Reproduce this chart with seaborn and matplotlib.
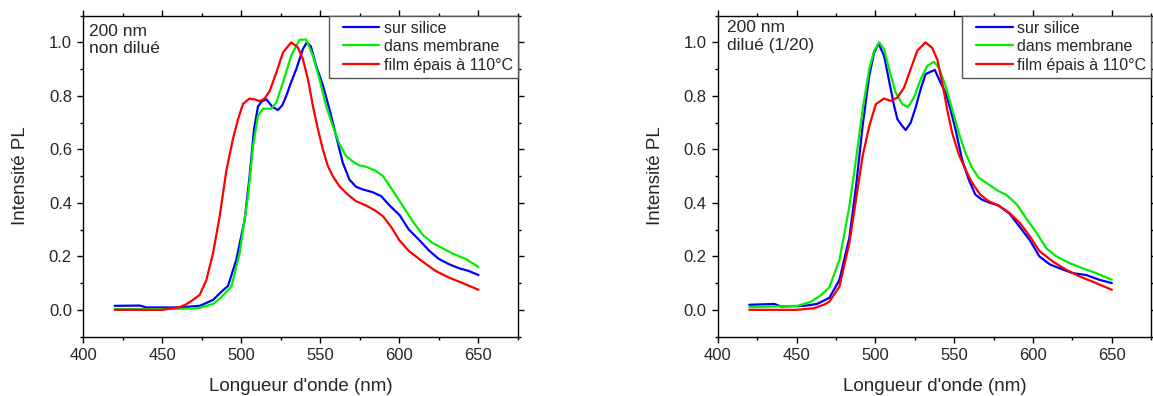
import numpy as np
import pandas as pd
import seaborn as sns
import matplotlib.pyplot as plt
from matplotlib.ticker import MultipleLocator
from matplotlib.lines import Line2D
from matplotlib.legend_handler import HandlerLine2D

# --- panneau gauche : 200 nm non dilué ---
wl_sil_a = [420, 436, 440, 460, 473.8, 482.2, 487, 491.7, 496.9, 502.2, 505.3, 508.1, 510.6, 513, 516, 519.5,
            523.2, 526, 528.5, 531.5, 534.8, 539, 541.5, 544, 547.4, 551.6, 555.8, 560, 564.2, 568.4, 572.6,
            577, 583, 588.5, 593.8, 600, 606, 612.7, 619, 625, 631.6, 638, 644, 650]
int_sil_a = [0.015, 0.016, 0.009, 0.009, 0.015, 0.037, 0.065, 0.09, 0.187, 0.337, 0.5, 0.675, 0.76, 0.78, 0.787,
             0.76, 0.747, 0.765, 0.8, 0.85, 0.9, 0.975, 1.0, 0.985, 0.912, 0.84, 0.75, 0.65, 0.55, 0.487, 0.46,
             0.45, 0.44, 0.425, 0.39, 0.355, 0.3, 0.26, 0.22, 0.19, 0.17, 0.155, 0.145, 0.13]

wl_mem_a = [420, 450, 470, 473.8, 482.2, 487, 493.8, 499, 504.3, 507.5, 510.6, 513.8, 519, 522.2, 526.4, 531.6,
            536.9, 541.1, 545.3, 549.5, 553.7, 557.9, 562.1, 566.3, 571.6, 574.7, 579, 585, 589.6, 595.9, 602,
            608.5, 614.8, 621, 627.4, 633.8, 642, 650]
int_mem_a = [0.003, 0.003, 0.005, 0.008, 0.022, 0.045, 0.087, 0.212, 0.425, 0.612, 0.725, 0.752, 0.752, 0.775,
             0.85, 0.95, 1.01, 1.01, 0.95, 0.862, 0.762, 0.687, 0.62, 0.575, 0.55, 0.54, 0.535, 0.52, 0.5, 0.445,
             0.39, 0.33, 0.28, 0.25, 0.23, 0.21, 0.19, 0.16]

wl_film_a = [420, 450, 461, 465, 469, 473.8, 478, 482.2, 486.4, 490.6, 494.8, 498, 501.1, 505.3, 508.5, 511.7,
             514.8, 518, 522.2, 526.4, 531.6, 535.8, 539, 542.2, 545.3, 548.5, 551.6, 554.8, 557.9, 562.1, 567.4,
             572.6, 579, 585, 589.6, 594.8, 600, 606, 614.8, 623, 631.6, 640, 650]
int_film_a = [0.0, 0.0, 0.01, 0.02, 0.035, 0.056, 0.112, 0.212, 0.35, 0.52, 0.64, 0.712, 0.77, 0.79, 0.787, 0.78,
              0.79, 0.818, 0.887, 0.962, 1.0, 0.981, 0.937, 0.862, 0.762, 0.675, 0.6, 0.537, 0.5, 0.462, 0.431,
              0.406, 0.39, 0.37, 0.35, 0.31, 0.26, 0.22, 0.18, 0.145, 0.12, 0.1, 0.075]

# --- panneau droit : 200 nm dilué (1/20) ---
wl_sil_b = [420, 436, 440, 455, 463, 470.85, 477.2, 483.5, 487.7, 491.9, 496.1, 499.2, 502, 505.5, 508.7, 511.9,
            514, 516.7, 519.2, 522.4, 525.5, 528.7, 531.8, 533.9, 537.7, 541.3, 544.5, 547.6, 550.8, 555, 559.2,
            563.4, 567.6, 571.8, 578.1, 585, 591.6, 598, 604, 610.6, 617, 625, 633.8, 642, 650]
int_sil_b = [0.019, 0.022, 0.0125, 0.015, 0.022, 0.045, 0.112, 0.27, 0.46, 0.687, 0.875, 0.962, 0.995, 0.95,
             0.856, 0.762, 0.712, 0.69, 0.672, 0.7, 0.756, 0.825, 0.881, 0.887, 0.897, 0.85, 0.812, 0.75, 0.675,
             0.562, 0.487, 0.431, 0.412, 0.402, 0.39, 0.36, 0.31, 0.26, 0.2, 0.17, 0.155, 0.1375, 0.13, 0.1125,
             0.1]

wl_mem_b = [420, 450.7, 459, 465.5, 470.85, 477.2, 483.5, 487.7, 491.9, 496.1, 499.2, 502.4, 505.5, 508.7, 512.9,
            517.1, 520.7, 524.5, 528.7, 532.9, 537.1, 540.2, 544.5, 548.7, 552.9, 557.1, 561.3, 565.5, 571.8,
            578.1, 583, 589.6, 595.9, 602, 608.5, 614.8, 623, 631.6, 640, 650]
int_mem_b = [0.01, 0.015, 0.03, 0.055, 0.085, 0.187, 0.387, 0.562, 0.75, 0.9, 0.969, 1.0, 0.975, 0.9, 0.812,
             0.769, 0.758, 0.794, 0.862, 0.912, 0.927, 0.906, 0.837, 0.75, 0.662, 0.587, 0.531, 0.494, 0.469,
             0.444, 0.43, 0.395, 0.34, 0.29, 0.23, 0.2, 0.175, 0.155, 0.1375, 0.1125]

wl_film_b = [420, 450, 461, 467.6, 470.85, 477.2, 483.5, 487.7, 491.9, 496.1, 500.3, 505.5, 509.8, 514, 518.2,
             522.4, 526.6, 531.8, 536, 539.2, 542.4, 545.5, 548.7, 552.9, 557.1, 561.3, 566.5, 571.8, 578.1, 585,
             591.6, 598, 604, 612.7, 621, 629.5, 640, 650]
int_film_b = [0.0, 0.0, 0.006, 0.02, 0.031, 0.087, 0.25, 0.412, 0.575, 0.687, 0.769, 0.79, 0.781, 0.794, 0.831,
              0.9, 0.969, 1.0, 0.979, 0.937, 0.85, 0.75, 0.662, 0.581, 0.525, 0.475, 0.431, 0.406, 0.39, 0.3625,
              0.325, 0.275, 0.22, 0.18, 0.15, 0.125, 0.1, 0.075]

labels = ['sur silice', 'dans membrane', 'film épais à 110°C']
colors = ['#0000FF', '#00EE00', '#FF0000']

sns.set_style("ticks")
plt.rcParams['font.family'] = ['Liberation Sans', 'DejaVu Sans']

fig = plt.figure(figsize=(11.53, 3.96), dpi=100)
ax1 = fig.add_axes([0.072, 0.150, 0.3773, 0.8106])
ax2 = fig.add_axes([0.6225, 0.150, 0.3760, 0.8106])

panels = [
    (ax1, [(wl_sil_a, int_sil_a), (wl_mem_a, int_mem_a), (wl_film_a, int_film_a)], "200 nm\nnon dilué", 0.014, 0.975),
    (ax2, [(wl_sil_b, int_sil_b), (wl_mem_b, int_mem_b), (wl_film_b, int_film_b)], "200 nm\ndilué (1/20)", 0.021, 0.985),
]

for ax, series, note, tx, ty in panels:
    for (wl, val), lab, col in zip(series, labels, colors):
        sns.lineplot(x=wl, y=val, ax=ax, color=col, label=lab, lw=1.6)
    ax.set_xlim(400, 675)
    ax.set_ylim(-0.1, 1.1)
    ax.xaxis.set_major_locator(MultipleLocator(50))
    ax.xaxis.set_minor_locator(MultipleLocator(25))
    ax.yaxis.set_major_locator(MultipleLocator(0.2))
    ax.yaxis.set_minor_locator(MultipleLocator(0.1))
    ax.yaxis.set_major_formatter(plt.FormatStrFormatter('%.1f'))
    ax.tick_params(which='both', direction='out', top=True, right=True, labeltop=False, labelright=False,
                   labelsize=12, width=1, color='black', pad=4)
    ax.tick_params(which='major', length=4)
    ax.tick_params(which='minor', length=2.5)
    for sp in ax.spines.values():
        sp.set_visible(True)
        sp.set_linewidth(1)
        sp.set_color('black')
    ax.set_xlabel("Longueur d'onde (nm)", fontsize=13.5, labelpad=11)
    ax.set_ylabel("Intensité PL", fontsize=13.5, labelpad=14)
    ax.text(tx, ty, note, transform=ax.transAxes, ha='left', va='top', fontsize=12.5, linespacing=1.2)
    # ligne de légende décalée vers la droite (marge gauche plus large, comme l'original)
    leg = ax.legend(loc='upper right', borderaxespad=0, fancybox=False, framealpha=1, fontsize=11.5,
                    handlelength=3.4, handletextpad=-0.27, labelspacing=0.22, borderpad=0.31,
                    handler_map={Line2D: HandlerLine2D(marker_pad=0.56, numpoints=2)})
    leg.get_frame().set_edgecolor('#555555')
    leg.get_frame().set_linewidth(1)

fig.savefig('out.png', dpi=100)
